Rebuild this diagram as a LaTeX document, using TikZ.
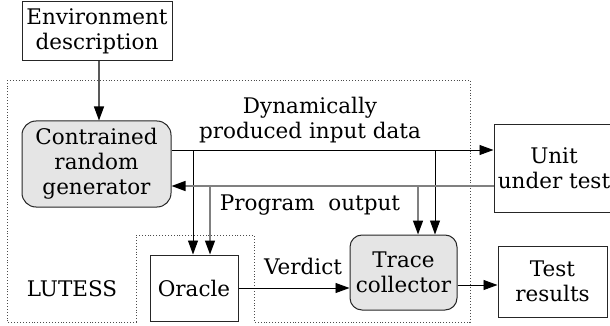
\documentclass[tikz,border=0pt]{standalone}
\usepackage{fontspec}
\newfontfamily\dvserif{DejaVu Serif}
\usetikzlibrary{arrows.meta}
\begin{document}
\begin{tikzpicture}[x=1pt,y=-1pt,
  txt/.style={font=\dvserif\fontsize{21.5}{25}\selectfont},
  box/.style={txt, draw=black!85, line width=1pt, align=center, inner sep=0pt},
  greybox/.style={box, fill=black!10, rounded corners=14pt},
  lbl/.style={txt, align=center, inner sep=0pt},
  arr/.style={-{Triangle[length=14pt,width=10pt,color=black]}, line width=0.9pt},
  garr/.style={arr, draw=black!50, line width=1.5pt},
  region/.style={dotted, line width=0.9pt, draw=black!70}]
\useasboundingbox (0,0) rectangle (610,326);

% LUTESS region
\draw[region] (7,80) -- (470,80) -- (470,322) -- (254,322) -- (254,235)
  -- (136,235) -- (136,322) -- (7,322) -- cycle;

% nodes
\node[box, minimum width=150pt, minimum height=59pt] (env) at (97,31.5) {Environment\\description};
\node[greybox, minimum width=149pt, minimum height=86pt] (gen) at (96.5,164) {Contrained\\random\\generator};
\node[box, minimum width=120pt, minimum height=87pt] (unit) at (554,168.5) {Unit\\under test};
\node[greybox, rounded corners=12pt, minimum width=107pt, minimum height=75pt] (trace) at (403.5,272.5) {Trace\\collector};
\node[box, minimum width=88pt, minimum height=66pt] (oracle) at (194,288) {Oracle};
\node[box, minimum width=109pt, minimum height=71pt] (test) at (552.5,281.5) {Test\\results};

% labels
\node[lbl] (dyn) at (310,120) {Dynamically\\produced input data};
\node[lbl, anchor=base] (prog) at (310,210) {Program\ \ output};
\node[lbl, anchor=base] (verdict) at (303,274) {Verdict};
\node[lbl, anchor=base] (lutess) at (72,296) {LUTESS};

% helper coordinates
\coordinate (inY) at (0,150);
\coordinate (outY) at (0,186);
\coordinate (bi1) at (193,150);
\coordinate (bi2) at (435,150);
\coordinate (bo1) at (210,186);
\coordinate (bo2) at (418,186);

% connectors
\draw[arr, draw=black!65, line width=1.2pt] (env.south -| 99,0) -- (gen.north -| 99,0);
\draw[arr] (gen.east |- inY) -- (unit.west |- inY);
\draw[arr] (bi1) -- (oracle.north -| bi1);
\draw[arr] (bi2) -- (trace.north -| bi2);
\draw[garr] (unit.west |- outY) -- (gen.east |- outY);
\draw[garr] (bo1) -- (oracle.north -| bo1);
\draw[garr] (bo2) -- (trace.north -| bo2);
\draw[arr] (oracle.east |- 0,288) -- (trace.west |- 0,288);
\draw[arr] (trace.east |- 0,285) -- (test.west |- 0,285);
\end{tikzpicture}
\end{document}
